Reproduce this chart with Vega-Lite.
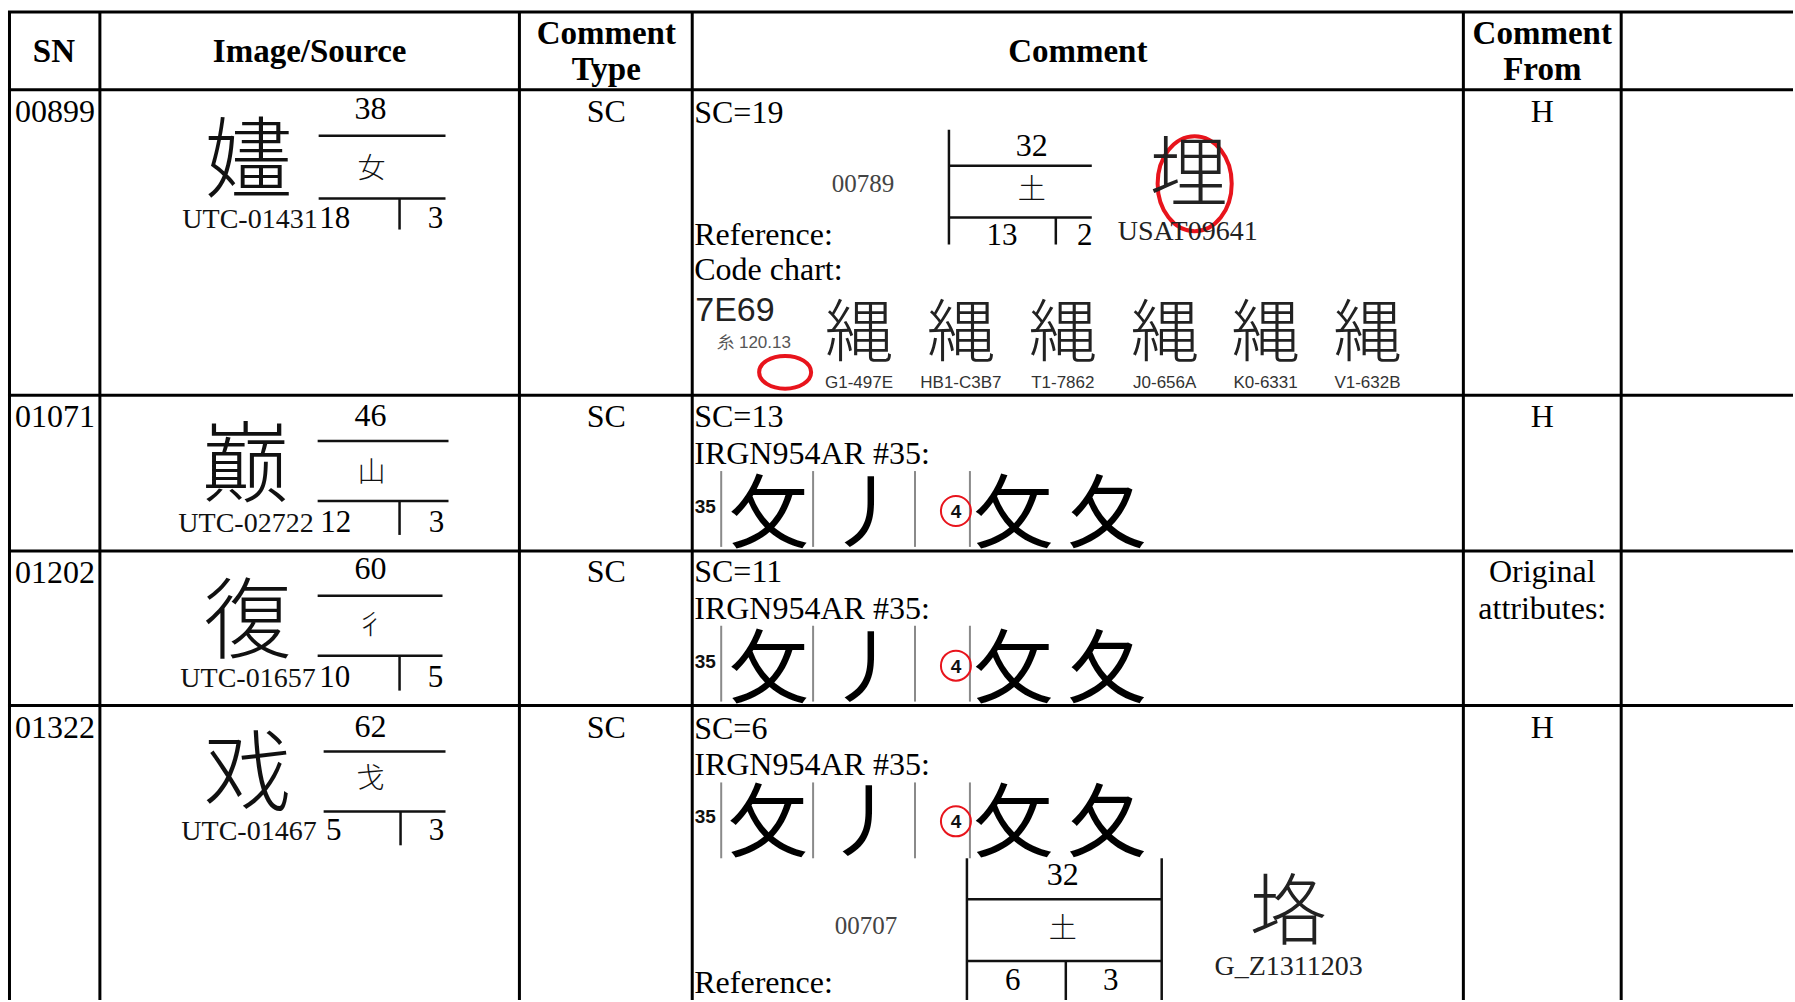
{
  "$schema": "https://vega.github.io/schema/vega-lite/v6.json",
  "width": 1795,
  "height": 1002,
  "autosize": {"type": "fit", "contains": "padding"},
  "padding": 0,
  "background": "white",
  "config": {"view": {"stroke": null}},
  "datasets": {
    "grid": [
      {"x": 8, "y": 12, "x2": 1795, "y2": 12},
      {"x": 8, "y": 90, "x2": 1795, "y2": 90},
      {"x": 8, "y": 396, "x2": 1795, "y2": 396},
      {"x": 8, "y": 552, "x2": 1795, "y2": 552},
      {"x": 8, "y": 707, "x2": 1795, "y2": 707},
      {"x": 9.5, "y": 11, "x2": 9.5, "y2": 1002},
      {"x": 100, "y": 11, "x2": 100, "y2": 1002},
      {"x": 520, "y": 11, "x2": 520, "y2": 1002},
      {"x": 693, "y": 11, "x2": 693, "y2": 1002},
      {"x": 1465, "y": 11, "x2": 1465, "y2": 1002},
      {"x": 1623, "y": 11, "x2": 1623, "y2": 1002}
    ],
    "frac": [
      {"x": 319, "y": 136, "x2": 446, "y2": 136},
      {"x": 319, "y": 199, "x2": 446, "y2": 199},
      {"x": 400, "y": 199, "x2": 400, "y2": 230},
      {"x": 318, "y": 442, "x2": 449, "y2": 442},
      {"x": 318, "y": 502, "x2": 449, "y2": 502},
      {"x": 400, "y": 502, "x2": 400, "y2": 536},
      {"x": 318, "y": 597, "x2": 443, "y2": 597},
      {"x": 318, "y": 657, "x2": 443, "y2": 657},
      {"x": 400, "y": 657, "x2": 400, "y2": 692},
      {"x": 324, "y": 753, "x2": 446, "y2": 753},
      {"x": 324, "y": 813, "x2": 446, "y2": 813},
      {"x": 401, "y": 813, "x2": 401, "y2": 847},
      {"x": 950, "y": 130, "x2": 950, "y2": 245},
      {"x": 950, "y": 166, "x2": 1093, "y2": 166},
      {"x": 950, "y": 218, "x2": 1093, "y2": 218},
      {"x": 1057, "y": 218, "x2": 1057, "y2": 245},
      {"x": 968, "y": 860, "x2": 968, "y2": 1002},
      {"x": 1163, "y": 860, "x2": 1163, "y2": 1002},
      {"x": 968, "y": 901, "x2": 1163, "y2": 901},
      {"x": 968, "y": 963, "x2": 1163, "y2": 963},
      {"x": 1067, "y": 963, "x2": 1067, "y2": 1002}
    ],
    "sep": [
      {"x": 722, "y": 472, "x2": 722, "y2": 548},
      {"x": 814, "y": 472, "x2": 814, "y2": 548},
      {"x": 916, "y": 472, "x2": 916, "y2": 548},
      {"x": 971, "y": 472, "x2": 971, "y2": 548},
      {"x": 722, "y": 627, "x2": 722, "y2": 703},
      {"x": 814, "y": 627, "x2": 814, "y2": 703},
      {"x": 916, "y": 627, "x2": 916, "y2": 703},
      {"x": 971, "y": 627, "x2": 971, "y2": 703},
      {"x": 722, "y": 784, "x2": 722, "y2": 860},
      {"x": 814, "y": 784, "x2": 814, "y2": 860},
      {"x": 916, "y": 784, "x2": 916, "y2": 860},
      {"x": 971, "y": 784, "x2": 971, "y2": 860}
    ],
    "ovals": [
      {"x": 1196, "y": 184, "k": "tall"},
      {"x": 786, "y": 373, "k": "wide"}
    ],
    "rings": [
      {"x": 957, "y": 512},
      {"x": 957, "y": 667},
      {"x": 957, "y": 823}
    ],
    "texts": [
      {"r": "h", "x": 54, "y": 52, "t": "SN"},
      {"r": "h", "x": 310, "y": 52, "t": "Image/Source"},
      {"r": "h", "x": 607, "y": 34, "t": "Comment"},
      {"r": "h", "x": 607, "y": 70, "t": "Type"},
      {"r": "h", "x": 1079, "y": 52, "t": "Comment"},
      {"r": "h", "x": 1544, "y": 34, "t": "Comment"},
      {"r": "h", "x": 1544, "y": 70, "t": "From"},

      {"r": "tl", "x": 15, "y": 112, "t": "00899"},
      {"r": "tl", "x": 15, "y": 418, "t": "01071"},
      {"r": "tl", "x": 15, "y": 574, "t": "01202"},
      {"r": "tl", "x": 15, "y": 729, "t": "01322"},
      {"r": "tl", "x": 695, "y": 113, "t": "SC=19"},
      {"r": "tl", "x": 695, "y": 235, "t": "Reference:"},
      {"r": "tl", "x": 695, "y": 271, "t": "Code chart:"},
      {"r": "tl", "x": 695, "y": 418, "t": "SC=13"},
      {"r": "tl", "x": 695, "y": 455, "t": "IRGN954AR #35:"},
      {"r": "tl", "x": 695, "y": 573, "t": "SC=11"},
      {"r": "tl", "x": 695, "y": 610, "t": "IRGN954AR #35:"},
      {"r": "tl", "x": 695, "y": 730, "t": "SC=6"},
      {"r": "tl", "x": 695, "y": 767, "t": "IRGN954AR #35:"},
      {"r": "tl", "x": 695, "y": 985, "t": "Reference:"},

      {"r": "tc", "x": 607, "y": 112, "t": "SC"},
      {"r": "tc", "x": 607, "y": 418, "t": "SC"},
      {"r": "tc", "x": 607, "y": 573, "t": "SC"},
      {"r": "tc", "x": 607, "y": 729, "t": "SC"},
      {"r": "tc", "x": 1544, "y": 112, "t": "H"},
      {"r": "tc", "x": 1544, "y": 418, "t": "H"},
      {"r": "tc", "x": 1544, "y": 573, "t": "Original"},
      {"r": "tc", "x": 1544, "y": 610, "t": "attributes:"},
      {"r": "tc", "x": 1544, "y": 729, "t": "H"},
      {"r": "tc", "x": 371, "y": 109, "t": "38"},
      {"r": "tc", "x": 371, "y": 417, "t": "46"},
      {"r": "tc", "x": 371, "y": 570, "t": "60"},
      {"r": "tc", "x": 371, "y": 728, "t": "62"},
      {"r": "tc", "x": 1033, "y": 146, "t": "32"},
      {"r": "tc", "x": 1064, "y": 877, "t": "32"},

      {"r": "fn", "x": 335, "y": 219, "t": "18"},
      {"r": "fn", "x": 436, "y": 219, "t": "3"},
      {"r": "fn", "x": 336, "y": 524, "t": "12"},
      {"r": "fn", "x": 437, "y": 524, "t": "3"},
      {"r": "fn", "x": 335, "y": 679, "t": "10"},
      {"r": "fn", "x": 436, "y": 679, "t": "5"},
      {"r": "fn", "x": 334, "y": 833, "t": "5"},
      {"r": "fn", "x": 437, "y": 833, "t": "3"},
      {"r": "fn", "x": 1003, "y": 236, "t": "13"},
      {"r": "fn", "x": 1086, "y": 236, "t": "2"},
      {"r": "fn", "x": 1014, "y": 983, "t": "6"},
      {"r": "fn", "x": 1112, "y": 983, "t": "3"},

      {"r": "utc", "x": 318, "y": 220, "t": "UTC-01431"},
      {"r": "utc", "x": 314, "y": 525, "t": "UTC-02722"},
      {"r": "utc", "x": 316, "y": 680, "t": "UTC-01657"},
      {"r": "utc", "x": 317, "y": 834, "t": "UTC-01467"},

      {"r": "big", "x": 249, "y": 157, "t": "嫿"},
      {"r": "big", "x": 246, "y": 463, "t": "巅"},
      {"r": "big", "x": 248, "y": 619, "t": "復"},
      {"r": "big", "x": 248, "y": 772, "t": "戏"},

      {"r": "rad", "x": 372, "y": 168, "t": "女"},
      {"r": "rad", "x": 372, "y": 473, "t": "山"},
      {"r": "rad", "x": 371, "y": 626, "t": "彳"},
      {"r": "rad", "x": 371, "y": 780, "t": "戈"},
      {"r": "rad", "x": 1033, "y": 189, "t": "土"},
      {"r": "rad", "x": 1064, "y": 930, "t": "土"},

      {"r": "refc", "x": 1190, "y": 172, "t": "埋"},
      {"r": "refc", "x": 1290, "y": 912, "t": "垎"},

      {"r": "grey", "x": 864, "y": 184, "t": "00789"},
      {"r": "grey", "x": 867, "y": 928, "t": "00707"},
      {"r": "glab", "x": 1189, "y": 232, "t": "USAT09641"},
      {"r": "glab", "x": 1290, "y": 969, "t": "G_Z1311203"},

      {"r": "hex", "x": 696, "y": 310, "t": "7E69"},
      {"r": "hexsub", "x": 718, "y": 344, "t": "糸  120.13"},

      {"r": "code", "x": 860, "y": 331, "t": "縄"},
      {"r": "code", "x": 962, "y": 331, "t": "縄"},
      {"r": "code", "x": 1064, "y": 331, "t": "縄"},
      {"r": "code", "x": 1166, "y": 331, "t": "縄"},
      {"r": "code", "x": 1267, "y": 331, "t": "縄"},
      {"r": "code", "x": 1369, "y": 331, "t": "縄"},
      {"r": "clab", "x": 860, "y": 384, "t": "G1-497E"},
      {"r": "clab", "x": 962, "y": 384, "t": "HB1-C3B7"},
      {"r": "clab", "x": 1064, "y": 384, "t": "T1-7862"},
      {"r": "clab", "x": 1166, "y": 384, "t": "J0-656A"},
      {"r": "clab", "x": 1267, "y": 384, "t": "K0-6331"},
      {"r": "clab", "x": 1369, "y": 384, "t": "V1-632B"},

      {"r": "n35", "x": 706, "y": 507, "t": "35"},
      {"r": "n35", "x": 706, "y": 662, "t": "35"},
      {"r": "n35", "x": 706, "y": 818, "t": "35"},
      {"r": "n35", "x": 957, "y": 512, "t": "4"},
      {"r": "n35", "x": 957, "y": 667, "t": "4"},
      {"r": "n35", "x": 957, "y": 823, "t": "4"},

      {"r": "irg", "x": 770, "y": 512, "t": "攵"},
      {"r": "irg", "x": 868, "y": 512, "t": "丿"},
      {"r": "irg", "x": 1015, "y": 512, "t": "攵"},
      {"r": "irg", "x": 1108, "y": 512, "t": "夂"},
      {"r": "irg", "x": 770, "y": 667, "t": "攵"},
      {"r": "irg", "x": 868, "y": 667, "t": "丿"},
      {"r": "irg", "x": 1015, "y": 667, "t": "攵"},
      {"r": "irg", "x": 1108, "y": 667, "t": "夂"},
      {"r": "irg", "x": 769, "y": 822, "t": "攵"},
      {"r": "irg", "x": 866, "y": 822, "t": "丿"},
      {"r": "irg", "x": 1015, "y": 822, "t": "攵"},
      {"r": "irg", "x": 1108, "y": 822, "t": "夂"}
    ]
  },
  "encoding": {
    "x": {"field": "x", "type": "quantitative", "scale": {"domain": [0, 1795], "nice": false, "zero": false}, "axis": null},
    "y": {"field": "y", "type": "quantitative", "scale": {"domain": [0, 1002], "nice": false, "zero": false, "reverse": true}, "axis": null}
  },
  "layer": [
    {
      "data": {"name": "grid"},
      "mark": {"type": "rule", "color": "#000000", "strokeWidth": 3, "clip": false},
      "encoding": {"x2": {"field": "x2"}, "y2": {"field": "y2"}}
    },
    {
      "data": {"name": "frac"},
      "mark": {"type": "rule", "color": "#111111", "strokeWidth": 2.5},
      "encoding": {"x2": {"field": "x2"}, "y2": {"field": "y2"}}
    },
    {
      "data": {"name": "sep"},
      "mark": {"type": "rule", "color": "#8a8a8a", "strokeWidth": 2},
      "encoding": {"x2": {"field": "x2"}, "y2": {"field": "y2"}}
    },
    {
      "data": {"name": "ovals"},
      "transform": [{"filter": "datum.k === 'tall'"}],
      "mark": {"type": "point", "filled": false, "stroke": "#e8141c", "strokeWidth": 4, "opacity": 1, "size": 9025, "shape": "M -0.78,0 A 0.78,1 0 1,1 0.78,0 A 0.78,1 0 1,1 -0.78,0 Z"},
      "encoding": {}
    },
    {
      "data": {"name": "ovals"},
      "transform": [{"filter": "datum.k === 'wide'"}],
      "mark": {"type": "point", "filled": false, "stroke": "#e8141c", "strokeWidth": 4, "opacity": 1, "size": 2704, "shape": "M -1,0 A 1,0.63 0 1,1 1,0 A 1,0.63 0 1,1 -1,0 Z"},
      "encoding": {}
    },
    {
      "data": {"name": "rings"},
      "mark": {"type": "point", "shape": "circle", "filled": false, "stroke": "#e8141c", "strokeWidth": 2, "opacity": 1, "size": 900},
      "encoding": {}
    },
    {
      "data": {"name": "texts"},
      "transform": [{"filter": "datum.r === 'h'"}],
      "mark": {"type": "text", "font": "Liberation Serif", "fontWeight": "bold", "fontSize": 33, "align": "center", "baseline": "middle", "color": "#000000"},
      "encoding": {"text": {"field": "t"}}
    },
    {
      "data": {"name": "texts"},
      "transform": [{"filter": "datum.r === 'tl'"}],
      "mark": {"type": "text", "font": "Liberation Serif", "fontSize": 32, "align": "left", "baseline": "middle", "color": "#000000"},
      "encoding": {"text": {"field": "t"}}
    },
    {
      "data": {"name": "texts"},
      "transform": [{"filter": "datum.r === 'tc'"}],
      "mark": {"type": "text", "font": "Liberation Serif", "fontSize": 32, "align": "center", "baseline": "middle", "color": "#000000"},
      "encoding": {"text": {"field": "t"}}
    },
    {
      "data": {"name": "texts"},
      "transform": [{"filter": "datum.r === 'fn'"}],
      "mark": {"type": "text", "font": "Liberation Serif", "fontSize": 31, "align": "center", "baseline": "middle", "color": "#000000"},
      "encoding": {"text": {"field": "t"}}
    },
    {
      "data": {"name": "texts"},
      "transform": [{"filter": "datum.r === 'utc'"}],
      "mark": {"type": "text", "font": "Liberation Serif", "fontSize": 28, "align": "right", "baseline": "middle", "color": "#111111"},
      "encoding": {"text": {"field": "t"}}
    },
    {
      "data": {"name": "texts"},
      "transform": [{"filter": "datum.r === 'big'"}],
      "mark": {"type": "text", "font": "Noto Sans CJK JP", "fontWeight": 300, "fontSize": 88, "align": "center", "baseline": "middle", "dy": 7, "color": "#111111"},
      "encoding": {"text": {"field": "t"}}
    },
    {
      "data": {"name": "texts"},
      "transform": [{"filter": "datum.r === 'rad'"}],
      "mark": {"type": "text", "font": "Noto Sans CJK JP", "fontWeight": 300, "fontSize": 28, "align": "center", "baseline": "middle", "dy": 2, "color": "#111111"},
      "encoding": {"text": {"field": "t"}}
    },
    {
      "data": {"name": "texts"},
      "transform": [{"filter": "datum.r === 'refc'"}],
      "mark": {"type": "text", "font": "Noto Sans CJK JP", "fontWeight": 300, "fontSize": 78, "align": "center", "baseline": "middle", "dy": 6, "color": "#222222"},
      "encoding": {"text": {"field": "t"}}
    },
    {
      "data": {"name": "texts"},
      "transform": [{"filter": "datum.r === 'grey'"}],
      "mark": {"type": "text", "font": "Liberation Serif", "fontSize": 25, "align": "center", "baseline": "middle", "color": "#444444"},
      "encoding": {"text": {"field": "t"}}
    },
    {
      "data": {"name": "texts"},
      "transform": [{"filter": "datum.r === 'glab'"}],
      "mark": {"type": "text", "font": "Liberation Serif", "fontSize": 28, "align": "center", "baseline": "middle", "color": "#222222"},
      "encoding": {"text": {"field": "t"}}
    },
    {
      "data": {"name": "texts"},
      "transform": [{"filter": "datum.r === 'hex'"}],
      "mark": {"type": "text", "font": "Liberation Sans", "fontSize": 34, "align": "left", "baseline": "middle", "dy": 2, "color": "#222222"},
      "encoding": {"text": {"field": "t"}}
    },
    {
      "data": {"name": "texts"},
      "transform": [{"filter": "datum.r === 'hexsub'"}],
      "mark": {"type": "text", "font": "Liberation Sans", "fontSize": 17, "align": "left", "baseline": "middle", "color": "#555555"},
      "encoding": {"text": {"field": "t"}}
    },
    {
      "data": {"name": "texts"},
      "transform": [{"filter": "datum.r === 'code'"}],
      "mark": {"type": "text", "font": "Noto Sans CJK JP", "fontWeight": 300, "fontSize": 68, "align": "center", "baseline": "middle", "dy": 6, "color": "#222222"},
      "encoding": {"text": {"field": "t"}}
    },
    {
      "data": {"name": "texts"},
      "transform": [{"filter": "datum.r === 'clab'"}],
      "mark": {"type": "text", "font": "Liberation Sans", "fontSize": 17, "align": "center", "baseline": "middle", "color": "#333333"},
      "encoding": {"text": {"field": "t"}}
    },
    {
      "data": {"name": "texts"},
      "transform": [{"filter": "datum.r === 'n35'"}],
      "mark": {"type": "text", "font": "Liberation Sans", "fontWeight": "bold", "fontSize": 19, "align": "center", "baseline": "middle", "dy": 1, "color": "#111111"},
      "encoding": {"text": {"field": "t"}}
    },
    {
      "data": {"name": "texts"},
      "transform": [{"filter": "datum.r === 'irg'"}],
      "mark": {"type": "text", "font": "Noto Sans CJK JP", "fontSize": 80, "align": "center", "baseline": "middle", "dy": 6, "color": "#000000"},
      "encoding": {"text": {"field": "t"}}
    }
  ]
}
